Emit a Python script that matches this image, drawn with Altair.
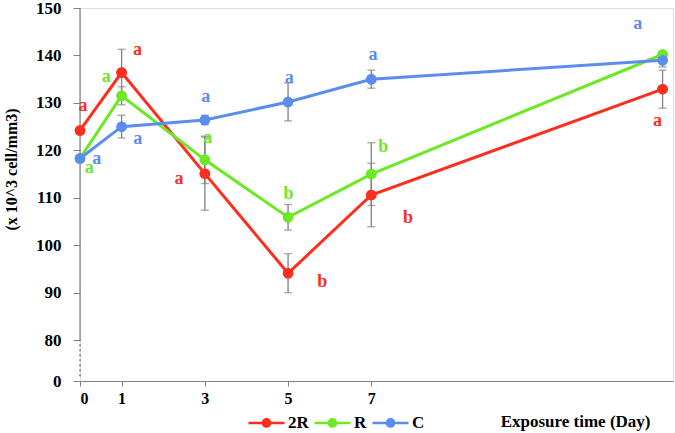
import altair as alt
import pandas as pd

# Sampling days and groups
days = [0, 1, 3, 5, 7, 14]
series_names = ["2R", "R", "C"]
colors = ["#FF2D1E", "#6CE825", "#5B8DEF"]

# Mean counts (x 10^3 cell/mm3)
vals_2R = [124.2, 136.4, 115.1, 94.1, 110.6, 132.9]
vals_R = [118.3, 131.5, 118.0, 105.9, 115.0, 140.2]
vals_C = [118.3, 125.0, 126.4, 130.2, 135.0, 139.0]

# Standard errors
err_2R = [0, 4.9, 7.7, 4.1, 6.7, 4.0]
err_R = [0, 1.9, 5.0, 2.7, 6.6, 0.5]
err_C = [0, 2.4, 1.0, 4.0, 1.9, 1.4]

# Significance letters, with the (day, value) spot where each is printed
let_2R = ["a", "a", "a", "b", "b", "a"]
let_R = ["a", "a", "a", "b", "b"]
let_C = ["a", "a", "a", "a", "a", "a"]
let_day_2R = [0.07, 1.38, 2.38, 5.82, 7.88, 13.88]
let_val_2R = [129.3, 141.1, 114.0, 92.2, 105.7, 126.2]
let_day_R = [0.22, 0.63, 3.07, 5.01, 7.29]
let_val_R = [116.2, 135.4, 122.7, 110.9, 120.8]
let_day_C = [0.40, 1.39, 3.02, 5.03, 7.04, 13.40]
let_val_C = [118.1, 122.3, 131.3, 135.2, 140.1, 146.6]

# Axis ticks
x_ticks = [0, 1, 3, 5, 7]
y_break = 71.4  # bottom of the broken axis, labelled "0"
y_ticks = [y_break, 80, 90, 100, 110, 120, 130, 140, 150]

FONT = "Liberation Serif"
AXIS_GRAY = "#808080"

points = []
for name, vals, errs in zip(series_names, [vals_2R, vals_R, vals_C], [err_2R, err_R, err_C]):
    for d, v, e in zip(days, vals, errs):
        points.append({"series": name, "day": d, "value": v, "lo": v - e, "hi": v + e, "err": e})
df = pd.DataFrame(points)
df_err = df[df["err"] > 0]

letters = []
for name, lets, lds, lvs in zip(series_names, [let_2R, let_R, let_C],
                                [let_day_2R, let_day_R, let_day_C],
                                [let_val_2R, let_val_R, let_val_C]):
    for t, d, v in zip(lets, lds, lvs):
        letters.append({"series": name, "letter": t, "lx": d, "ly": v})
df_let = pd.DataFrame(letters)

x_scale = alt.Scale(domain=[0, 14.25], nice=False, zero=False)
y_scale = alt.Scale(domain=[y_break, 150], nice=False, zero=False)
color_scale = alt.Scale(domain=series_names, range=colors)

# legend glyph: a short line with a dot in its middle
legend_symbol = ("M-1,0H1M0.2,0A0.2,0.2,0,1,1,-0.2,0"
                 "A0.2,0.2,0,1,1,0.2,0Z")

legend = alt.Legend(
    title=None, orient="none", direction="horizontal",
    legendX=167, legendY=395,
    symbolType=legend_symbol, symbolSize=1296,
    symbolStrokeWidth=2.5, symbolOpacity=1,
    labelFont=FONT, labelFontSize=17, labelFontWeight="bold",
    labelColor="black", labelOffset=2, columnPadding=0,
)
color_enc = alt.Color("series:N", scale=color_scale, legend=legend)

x_enc = alt.X(
    "day:Q", scale=x_scale,
    axis=alt.Axis(
        values=x_ticks, format="d", grid=False,
        title="Exposure time (Day)", titleFont=FONT, titleFontSize=17,
        titleFontWeight="bold", titleColor="black",
        titleAlign="right", titleBaseline="middle", titleX=570, titleY=40,
        labelFont=FONT, labelFontSize=16, labelFontWeight="bold",
        labelColor="black", labelPadding=4, tickSize=5,
        tickColor=AXIS_GRAY, domainColor=AXIS_GRAY, domainWidth=1.2,
    ),
)
y_enc = alt.Y(
    "value:Q", scale=y_scale,
    axis=alt.Axis(
        values=y_ticks, grid=False, domain=False,
        labelExpr="datum.value < 75 ? '0' : datum.label",
        title="(x 10^3 cell/mm3)", titleFont=FONT, titleFontSize=16,
        titleFontWeight="bold", titleColor="black",
        titleAngle=-90, titleAlign="center", titleBaseline="middle",
        titleX=-69, titleY=161,
        labelFont=FONT, labelFontSize=17, labelFontWeight="bold",
        labelColor="black", labelPadding=12, tickSize=7,
        tickColor=AXIS_GRAY,
    ),
)

base = alt.Chart(df)

# y axis line: solid above the break, dotted across it
axis_solid = alt.Chart(pd.DataFrame({"a": [0]})).mark_rule(
    color=AXIS_GRAY, strokeWidth=1.2
).encode(x=alt.value(0), y=alt.datum(80, scale=y_scale), y2=alt.datum(150))
axis_dotted = alt.Chart(pd.DataFrame({"a": [0]})).mark_rule(
    color="#555555", strokeWidth=1.2, strokeDash=[2, 3]
).encode(x=alt.value(0), y=alt.datum(y_break + 1, scale=y_scale), y2=alt.datum(80))

dots = base.mark_point(filled=True, size=110, opacity=1).encode(
    x=x_enc, y=y_enc, color=color_enc,
)

lines = base.mark_line(strokeWidth=3).encode(
    x="day:Q", y="value:Q", color=color_enc, detail="series:N",
)

err_rules = alt.Chart(df_err).mark_rule(color=AXIS_GRAY, strokeWidth=1.3).encode(
    x="day:Q", y="lo:Q", y2="hi:Q"
)
err_lo = alt.Chart(df_err).mark_tick(
    color=AXIS_GRAY, orient="horizontal", size=8, thickness=1.3
).encode(x="day:Q", y="lo:Q")
err_hi = alt.Chart(df_err).mark_tick(
    color=AXIS_GRAY, orient="horizontal", size=8, thickness=1.3
).encode(x="day:Q", y="hi:Q")

letters_layer = alt.Chart(df_let).mark_text(
    font=FONT, fontWeight="bold", fontSize=18, baseline="middle", align="center"
).encode(
    x="lx:Q", y="ly:Q", text="letter:N", color=color_enc,
)

chart = alt.layer(
    dots, axis_dotted, axis_solid, lines, err_rules, err_lo, err_hi,
    dots.encode(), letters_layer
).properties(
    width=593, height=373,
    autosize=alt.AutoSizeParams(type="none"),
    padding={"left": 80, "top": 8, "right": 2, "bottom": 52},
).configure_view(stroke=None).configure(background="white")

chart.save("out.html", embed_options={"renderer": "svg", "actions": False})
